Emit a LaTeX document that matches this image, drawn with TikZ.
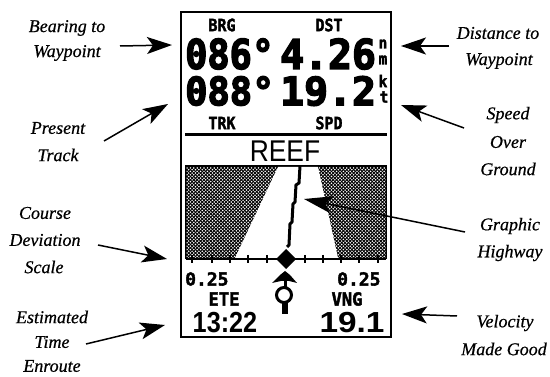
\documentclass[tikz,border=0pt]{standalone}
\usepackage{fontspec}
\setmainfont[ItalicFeatures={FakeBold=0.6}]{Liberation Serif}
\newfontfamily\scrfont[BoldFeatures={FakeBold=2.2}]{DejaVu Sans Mono}
\newfontfamily\scrbig[BoldFeatures={FakeBold=3.6}]{DejaVu Sans Mono}
\newfontfamily\reeffont{Liberation Sans}
\usetikzlibrary{arrows.meta}
\newcommand{\scrtext}[3]{\scalebox{#2}[1]{\fontsize{#1}{#1}\scrfont\bfseries #3}}
\newcommand{\bigtext}[3]{\scalebox{#2}[1]{\fontsize{#1}{#1}\scrbig\bfseries #3}}
\tikzset{
  x=1pt,y=-1pt,
  lab/.style={font=\fontsize{18}{18}\selectfont\itshape,inner sep=0pt,anchor=center,name=#1},
  conn/.style={line width=1.5pt,-{Stealth[length=25pt,width=17pt,inset=6pt]}},
  small/.style={inner sep=0pt,anchor=center},
  big/.style={inner sep=0pt,anchor=west},
  tick/.style={line width=2pt}
}
\begin{document}
\begin{tikzpicture}
\useasboundingbox (0,0) rectangle (550,377);
\fill[white] (0,0) rectangle (550,377);
% labels
\node[lab=l1a] at (67,28) {Bearing to};
\node[lab=l1b] at (67,53) {Waypoint};
\node[lab=l2a] at (58,128) {Present};
\node[lab=l2b] at (58,155) {Track};
\node[lab=l3a] at (45,213) {Course};
\node[lab=l3b] at (45,240) {Deviation};
\node[lab=l3c] at (44,267) {Scale};
\node[lab=l4a] at (52,317) {Estimated};
\node[lab=l4b] at (52,342) {Time};
\node[lab=l4c] at (52,366) {Enroute};
\node[lab=r1a] at (498,33) {Distance to};
\node[lab=r1b] at (499,61) {Waypoint};
\node[lab=r2a] at (508,115) {Speed};
\node[lab=r2b] at (508,142) {Over};
\node[lab=r2c] at (508,169) {Ground};
\node[lab=r3a] at (510,226) {Graphic};
\node[lab=r3b] at (510,253) {Highway};
\node[lab=r4a] at (505,323) {Velocity};
\node[lab=r4b] at (504,349) {Made Good};
% display frame
\draw[line width=2.6pt] (181,12) rectangle (391,337);
\draw[line width=3pt] (185,135) -- (387,135);
% map
\fill[black] (185,165) rectangle (387,259);
\begin{scope}
\clip (186.5,167) rectangle (385.5,258);
\foreach \i in {0,...,30}{
  \foreach \j in {0,...,60}{
    \fill[white] ({187+\j*3.4},{168+\i*3.4}) circle (0.85);
    \fill[white] ({188.7+\j*3.4},{169.7+\i*3.4}) circle (0.85);
  }
}
\end{scope}
\fill[white] (278,167) -- (235,258) -- (338,258) -- (318,167) -- cycle;
% centre line
\draw[line width=3pt] (300,166) -- (299,183) -- (296,185) -- (295,202) -- (293,204) -- (292,222) -- (290,224) -- (289,245) -- (287,247);
% scale
\draw[line width=2.2pt] (186,259) -- (386,259);
\foreach \t in {192,212,230,248,267,305,323,341,359,378}{
  \draw[tick] (\t,255) -- (\t,263);
}
\fill (286,249) -- (296,259) -- (286,269) -- (276,259) -- cycle;
% plane
\fill (285,271) -- (290,275) -- (297,283) -- (289,281) -- (281,281) -- (272,283) -- (280,275) -- cycle;
\draw[line width=3pt] (285,281) -- (285,288);
\draw[line width=3pt] (284,295) circle (7.5);
\draw[line width=5.5pt] (285,303) -- (285,314);
% screen text
\node[small] (brg) at (222,25) {\scrtext{17}{.88}{BRG}};
\node[small] (dst) at (329,25) {\scrtext{17}{.88}{DST}};
\node[big] (v1) at (185,54) {\bigtext{41}{.9}{086°}};
\node[big] (v2) at (280,54) {\bigtext{41}{.97}{4.26}};
\node[big] (v3) at (185,91) {\bigtext{39}{.95}{088°}};
\node[big] (v4) at (280,91) {\bigtext{39}{1.02}{19.2}};
\node[small] (nn) at (383,44) {\scrtext{16}{.9}{n}};
\node[small] (mm) at (383,60) {\scrtext{16}{.9}{m}};
\node[small] (kk) at (383,81) {\scrtext{16}{.9}{k}};
\node[small] (tt) at (384,97) {\scrtext{16}{.9}{t}};
\node[small] (trk) at (222,123) {\scrtext{17}{.88}{TRK}};
\node[small] (spd) at (329,123) {\scrtext{17}{.88}{SPD}};
\node[small] (reef) at (285,151) {\scalebox{.88}[1]{\fontsize{30}{30}\reeffont REEF}};
\node[big] (sl) at (185,279) {\scrtext{18}{1.0}{0.25}};
\node[big] (sr) at (337,279) {\scrtext{18}{1.0}{0.25}};
\node[small] (ete) at (224,299) {\scrtext{18}{.95}{ETE}};
\node[small] (vng) at (347,299) {\scrtext{18}{.95}{VNG}};
\node[small] (time) at (225,323) {\scalebox{.87}[1]{\fontsize{29}{29}\reeffont\bfseries 13:22}};
\node[small] (vmg) at (352,323) {\scalebox{1.15}[1]{\fontsize{29}{29}\reeffont\bfseries 19.1}};
% connectors
\coordinate (a1s) at (120,46); \coordinate (a1e) at (172,45);
\coordinate (a2s) at (104,141); \coordinate (a2e) at (168,104);
\coordinate (a3s) at (98,245); \coordinate (a3e) at (167,259);
\coordinate (a4s) at (86,344); \coordinate (a4e) at (165,325);
\coordinate (a5s) at (449,46); \coordinate (a5e) at (401,46);
\coordinate (a6s) at (464,128); \coordinate (a6e) at (401,105);
\coordinate (a7s) at (465,232); \coordinate (a7e) at (304,199);
\coordinate (a8s) at (457,316); \coordinate (a8e) at (402,314);
\foreach \n in {1,...,6,8}{ \draw[conn] (a\n s) -- (a\n e); }
\draw[line width=1.5pt,-{Stealth[length=28pt,width=17pt,inset=6pt]}] (a7s) -- (a7e);
\end{tikzpicture}
\end{document}
